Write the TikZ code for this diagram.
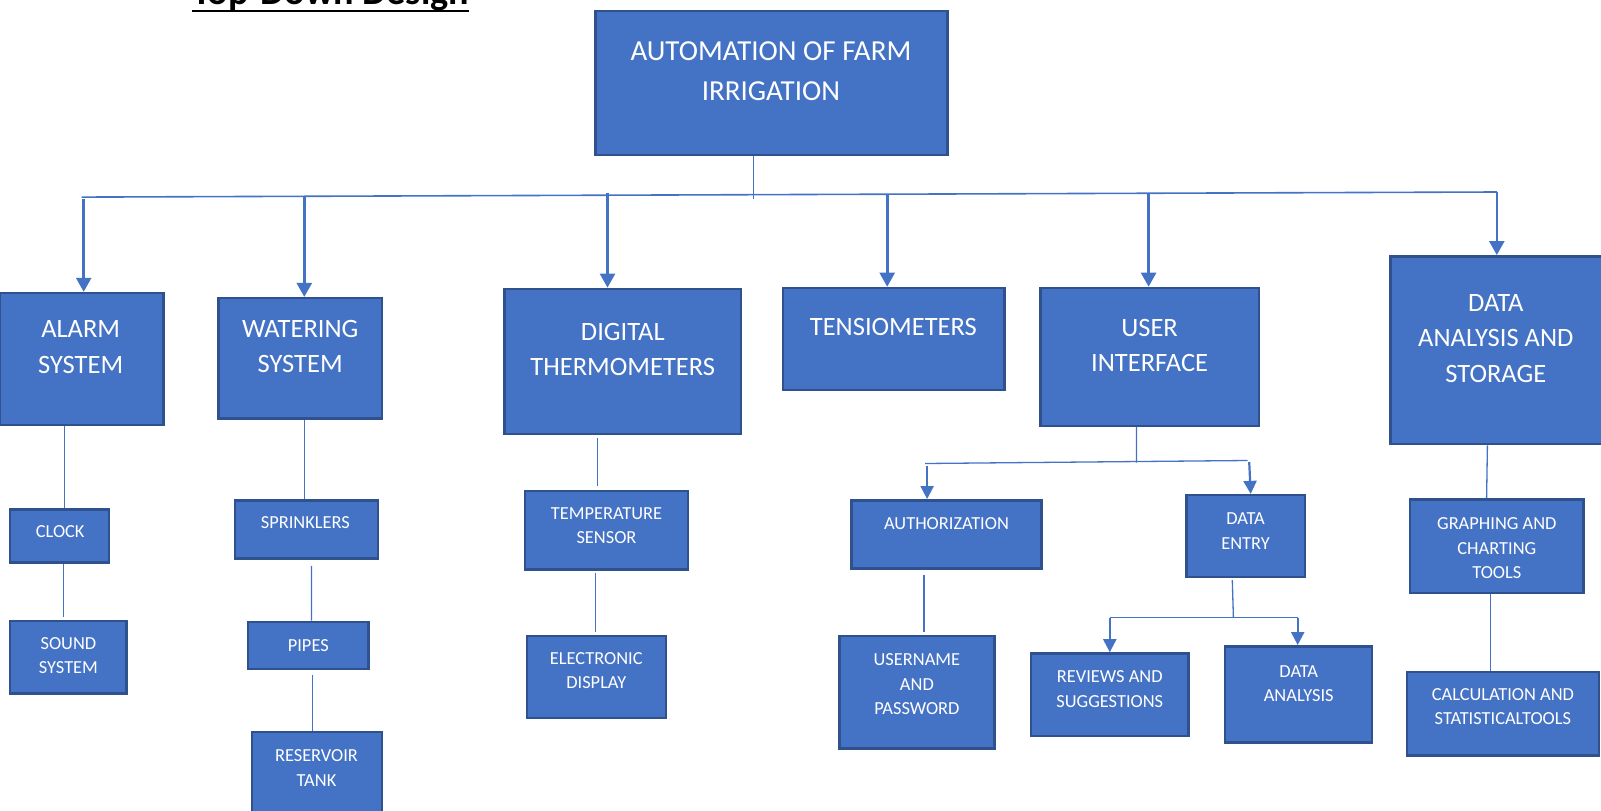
\documentclass[tikz,border=0pt]{standalone}
\usepackage{fontspec}
\setmainfont{Carlito}
\usetikzlibrary{arrows.meta}
\definecolor{boxfill}{HTML}{4472C4}
\definecolor{boxline}{HTML}{2F528F}
\definecolor{conn}{HTML}{4472C4}
\tikzset{
 box/.style={draw=boxline, fill=boxfill, line width=2.5pt, inner sep=0pt, rectangle},
 lbl/.style={text=white, inner sep=0pt, align=center},
 big/.style={lbl, font=\fontsize{29}{40}\selectfont},
 mid/.style={lbl, font=\fontsize{26.5}{35.2}\selectfont},
 small/.style={lbl, font=\fontsize{18.4}{24.5}\selectfont},
 bus/.style={draw=conn, line width=1.6pt},
 thin/.style={draw=conn, line width=1.3pt},
 arr/.style={draw=conn, line width=2.6pt, -{Triangle[width=15pt,length=14pt]}},
 sarr/.style={draw=conn, line width=2.2pt, -{Triangle[width=13pt,length=13pt]}},
}
\begin{document}
\begin{tikzpicture}[x=1pt,y=-1pt]
\useasboundingbox (0,0) rectangle (1601,811);
% title
\node[font=\fontsize{38.2}{42}\selectfont\bfseries, anchor=base west, inner sep=0pt] (title) at (192,5) {Top-Down Design};
\draw[line width=2.6pt] ([yshift=-6pt]title.base west) -- ([yshift=-6pt]title.base east);
% main
\node[box, minimum width=352, minimum height=144] (main) at (771.4,83.2) {};
\node[big] (mainT) at (770.9,71) {AUTOMATION OF FARM\\IRRIGATION};
% level 1
\node[box, minimum width=163.4, minimum height=131.7] (alarm) at (81.7,358.9) {};
\node[mid] (alarmT) at (80.7,347.1) {ALARM\\SYSTEM};
\node[box, minimum width=163.4, minimum height=120.5] (water) at (300.2,358.4) {};
\node[mid] (waterT) at (300.2,346.1) {WATERING\\SYSTEM};
\node[box, minimum width=236.8, minimum height=145] (digit) at (622.8,361.4) {};
\node[mid] (digitT) at (622.8,349.2) {DIGITAL\\THERMOMETERS};
\node[box, minimum width=221.6, minimum height=102.1] (tens) at (893.9,339.0) {};
\node[mid] (tensT) at (893.4,326.7) {TENSIOMETERS};
\node[box, minimum width=218.5, minimum height=137.9] (ui) at (1149.6,356.9) {};
\node[mid] (uiT) at (1149.6,345.1) {USER\\INTERFACE};
\node[box, minimum width=214, minimum height=187.8] (das) at (1497.6,350.2) {};
\node[mid] (dasT) at (1495.8,338.5) {DATA\\ANALYSIS AND\\STORAGE};
% level 2+
\node[box, minimum width=99, minimum height=53] (clock) at (59.7,536.0) {};
\node[small] (clockT) at (60.2,531.9) {CLOCK};
\node[box, minimum width=116.4, minimum height=72.5] (sound) at (68.4,657.0) {};
\node[small] (soundT) at (68.4,655.5) {SOUND\\SYSTEM};
\node[box, minimum width=143, minimum height=58.2] (spr) at (306.3,529.4) {};
\node[small] (sprT) at (305.3,522.8) {SPRINKLERS};
\node[box, minimum width=120.5, minimum height=47] (pipes) at (308.4,645.3) {};
\node[small] (pipesT) at (308.3,645.3) {PIPES};
\node[box, minimum width=129.7, minimum height=84] (res) at (317.0,774) {};
\node[small] (resT) at (316.5,767.8) {RESERVOIR\\TANK};
\node[box, minimum width=163.4, minimum height=78.6] (temp) at (606.5,530.4) {};
\node[small] (tempT) at (606.5,525.8) {TEMPERATURE\\SENSOR};
\node[box, minimum width=138.9, minimum height=81.7] (disp) at (596.3,677.0) {};
\node[small] (dispT) at (596.3,670.8) {ELECTRONIC\\DISPLAY};
\node[box, minimum width=189.9, minimum height=68.4] (auth) at (946.5,534.5) {};
\node[small] (authT) at (946.5,523.8) {AUTHORIZATION};
\node[box, minimum width=155.2, minimum height=112.3] (user) at (916.9,692.2) {};
\node[small] (userT) at (916.9,684.1) {USERNAME\\AND\\PASSWORD};
\node[box, minimum width=118.4, minimum height=81.7] (de) at (1245.6,536.0) {};
\node[small] (deT) at (1245.6,530.9) {DATA\\ENTRY};
\node[box, minimum width=157.2, minimum height=82.7] (rev) at (1109.8,694.8) {};
\node[small] (revT) at (1109.8,689.2) {REVIEWS AND\\SUGGESTIONS};
\node[box, minimum width=147, minimum height=96] (dan) at (1298.7,694.3) {};
\node[small] (danT) at (1298.7,683.6) {DATA\\ANALYSIS};
\node[box, minimum width=173.6, minimum height=93.9] (graph) at (1496.8,546.2) {};
\node[small] (graphT) at (1496.8,548.3) {GRAPHING AND\\CHARTING\\TOOLS};
\node[box, minimum width=192, minimum height=83.7] (calc) at (1502.9,713.7) {};
\node[small] (calcT) at (1502.9,706.5) {CALCULATION AND\\STATISTICALTOOLS};
% main bus
\coordinate (busL) at (81.7,197.1);
\coordinate (busR) at (1496.8,192.0);
\coordinate (busM) at (753.5,194.6);
\draw[bus] (busL) -- (busR);
\draw[thin] ([xshift=-17.9pt]main.south) -- (busM) -- ++(0,4);
\coordinate (t1) at (83.7,198.5);
\coordinate (t2) at (304.3,196.5);
\coordinate (t3) at (607.5,192.5);
\coordinate (t4) at (887.2,194);
\coordinate (t5) at (1148.6,192.5);
\coordinate (t6) at (1496.8,192.0);
\draw[arr] (t1) -- (t1 |- alarm.north);
\draw[arr] (t2) -- (t2 |- water.north);
\draw[arr] (t3) -- (t3 |- digit.north);
\draw[arr] (t4) -- (t4 |- tens.north);
\draw[arr] (t5) -- (t5 |- ui.north);
\draw[arr] (t6) -- (t6 |- das.north);
% vertical chains
\draw[thin] ([xshift=-17.4pt]alarm.south) -- ([xshift=4.6pt]clock.north);
\draw[thin] ([xshift=3.6pt]clock.south) -- ([xshift=3.6pt,yshift=3pt]clock.south |- sound.north);
\draw[thin] ([xshift=4.1pt]water.south) -- ([xshift=-2pt]spr.north);
\draw[thin] ([xshift=5.1pt,yshift=-6pt]spr.south) -- ([xshift=3pt]pipes.north);
\draw[thin] ([xshift=4pt,yshift=-5pt]pipes.south) -- ([xshift=-4.6pt]res.north);
\draw[thin] ([xshift=-25.5pt,yshift=-3pt]digit.south) -- ([xshift=-9.2pt,yshift=4pt]temp.north);
\draw[thin] ([xshift=-11.3pt,yshift=-2pt]temp.south) -- ([xshift=-1.1pt,yshift=3pt]disp.north);
\draw[thin] ([xshift=-22.5pt,yshift=-5pt]auth.south) -- ([xshift=7.1pt,yshift=3pt]user.north);
\draw[thin] ([xshift=-10.2pt]das.south) -- ([xshift=-10.2pt]graph.north);
\draw[thin] ([xshift=-6.1pt]graph.south) -- ([xshift=-12.2pt]calc.north);
% UI sub-bus
\coordinate (uiL) at (925.0,463.5);
\coordinate (uiR) at (1247.7,460.5);
\coordinate (uiM) at (1136.4,462.5);
\draw[thin] ([xshift=-13.2pt]ui.south) -- (uiM);
\draw[thin] (uiL) -- (uiR);
\coordinate (ua) at (927.1,466);
\coordinate (ub) at (1249.2,462);
\draw[sarr] (ua) -- (ua |- auth.north);
\draw[sarr] (ub) -- ([xshift=5.1pt]de.north);
% data entry sub-bus
\coordinate (deL) at (1109.8,617.7);
\coordinate (deR) at (1297.7,617.7);
\coordinate (deM) at (1233.4,617.7);
\draw[thin] ([xshift=-13.3pt,yshift=-2pt]de.south) -- (deM);
\draw[thin] (deL) -- (deR);
\draw[sarr] (deL) -- (deL |- rev.north);
\draw[sarr] (deR) -- (deR |- dan.north);
\end{tikzpicture}
\end{document}
